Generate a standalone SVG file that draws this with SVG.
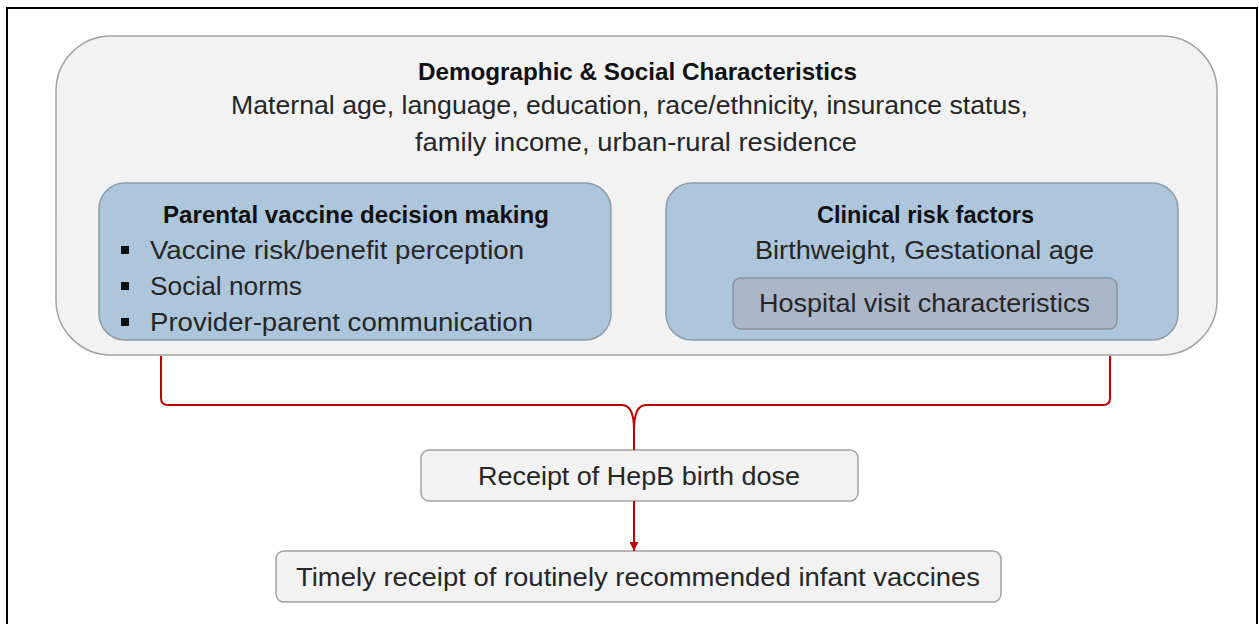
<svg xmlns="http://www.w3.org/2000/svg" width="1259" height="624" viewBox="0 0 1259 624">
  <style>
    .txt { font-family: "Liberation Sans", Arial, sans-serif; font-size: 25px; fill: #262626; }
    .bold { font-weight: bold; fill: #111111; font-size: 24px; }
    .outer { fill: #F2F2F2; stroke: #A3A3A3; stroke-width: 1.5; }
    .blue { fill: #ADC6DC; stroke: #8E9CAA; stroke-width: 1.5; }
    .slate { fill: #ABB6C9; stroke: #8A929E; stroke-width: 1.5; }
    .plain { fill: #F2F2F2; stroke: #A3A3A3; stroke-width: 1.5; }
    .link { fill: none; stroke: #C00000; stroke-width: 2; }
  </style>
  <defs>
    <marker id="arrowhead" viewBox="0 0 10 10" refX="10" refY="5" markerWidth="4.5" markerHeight="4.5" orient="auto" markerUnits="strokeWidth">
      <path d="M0,0 L10,5 L0,10 Z" fill="#C00000"/>
    </marker>
  </defs>

  <rect width="1259" height="624" fill="#FFFFFF"/>
  <!-- figure frame -->
  <rect x="7" y="8" width="1250" height="640" fill="none" stroke="#000000" stroke-width="2"/>

  <!-- outer context box -->
  <g id="demographic">
    <rect class="outer" x="56" y="36" width="1161" height="319" rx="55" ry="55"/>
    <text class="txt bold" x="418" y="80" textLength="439" lengthAdjust="spacingAndGlyphs">Demographic &amp; Social Characteristics</text>
    <text class="txt" x="231" y="114" textLength="797" lengthAdjust="spacingAndGlyphs">Maternal age, language, education, race/ethnicity, insurance status,</text>
    <text class="txt" x="415" y="151" textLength="442" lengthAdjust="spacingAndGlyphs">family income, urban-rural residence</text>
  </g>

  <g id="parental">
    <rect class="blue" x="99" y="183" width="512" height="157" rx="26" ry="26"/>
    <text class="txt bold" x="163" y="223" textLength="386" lengthAdjust="spacingAndGlyphs">Parental vaccine decision making</text>
    <rect x="121" y="246" width="8" height="8" fill="#111111"/>
    <text class="txt" x="150" y="259" textLength="374" lengthAdjust="spacingAndGlyphs">Vaccine risk/benefit perception</text>
    <rect x="121" y="282" width="8" height="8" fill="#111111"/>
    <text class="txt" x="150" y="295" textLength="152" lengthAdjust="spacingAndGlyphs">Social norms</text>
    <rect x="121" y="318" width="8" height="8" fill="#111111"/>
    <text class="txt" x="150" y="331" textLength="383" lengthAdjust="spacingAndGlyphs">Provider-parent communication</text>
  </g>

  <g id="clinical">
    <rect class="blue" x="666" y="183" width="512" height="157" rx="26" ry="26"/>
    <text class="txt bold" x="817" y="223" textLength="217" lengthAdjust="spacingAndGlyphs">Clinical risk factors</text>
    <text class="txt" x="755" y="259" textLength="339" lengthAdjust="spacingAndGlyphs">Birthweight, Gestational age</text>
  </g>

  <g id="hospital">
    <rect class="slate" x="733" y="278" width="384" height="51" rx="8" ry="8"/>
    <text class="txt" x="759" y="312" textLength="331" lengthAdjust="spacingAndGlyphs">Hospital visit characteristics</text>
  </g>

  <g id="hepb">
    <rect class="plain" x="421" y="450" width="437" height="51" rx="8" ry="8"/>
    <text class="txt" x="478" y="485" textLength="322" lengthAdjust="spacingAndGlyphs">Receipt of HepB birth dose</text>
  </g>

  <g id="timely">
    <rect class="plain" x="276" y="551" width="725" height="51" rx="8" ry="8"/>
    <text class="txt" x="296" y="586" textLength="684" lengthAdjust="spacingAndGlyphs">Timely receipt of routinely recommended infant vaccines</text>
  </g>

  <!-- connectors -->
  <g id="connectors">
    <path class="link" d="M161,356 V398 Q161,405 168,405 H622 C630,405 634,412 634,430 V450"/>
    <path class="link" d="M1110,356 V398 Q1110,405 1103,405 H646 C638,405 634,412 634,430"/>
    <line class="link" x1="634" y1="501" x2="634" y2="551" marker-end="url(#arrowhead)"/>
  </g>
</svg>
